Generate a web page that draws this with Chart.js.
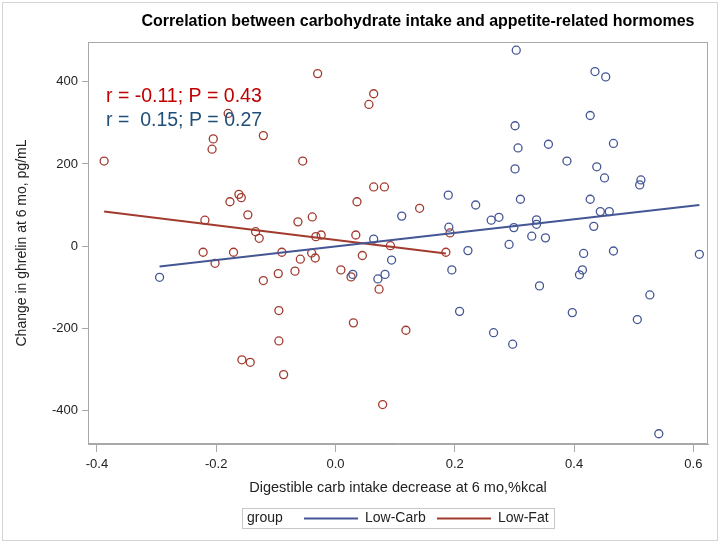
<!DOCTYPE html>
<html>
<head>
<meta charset="utf-8">
<title>Carbohydrate intake and ghrelin</title>
<script src="https://cdn.jsdelivr.net/npm/chart.js@4/dist/chart.umd.min.js"></script>
<style>
    html, body { margin: 0; padding: 0; background: #fff; }
    #wrap { width: 724px; height: 544px; }
</style>
</head>
<body>
<div id="wrap"><canvas id="chart" width="724" height="544"></canvas></div>
<script>
// Low-Carb group (blue)
const lowCarbX = [-0.295, 0.189, 0.235, 0.111, 0.261, 0.274, 0.190, 0.064, 0.222, 0.029,
    0.071, 0.083, 0.094, 0.195, 0.208, 0.265, 0.303, 0.435, 0.453, 0.427,
    0.301, 0.306, 0.357, 0.466, 0.388, 0.301, 0.438, 0.451, 0.512, 0.510,
    0.310, 0.427, 0.444, 0.459, 0.337, 0.337, 0.299, 0.433, 0.329, 0.352,
    0.291, 0.416, 0.466, 0.610, 0.414, 0.409, 0.342, 0.527, 0.397, 0.506,
    0.297, 0.542];
const lowCarbY = [-76, 124, 100, 73, 63, 70, 46, 17, -11, -69,
    -80, -69, -34, -58, -159, -211, 477, 425, 412, 318,
    293, 239, 248, 250, 207, 188, 193, 166, 161, 149,
    114, 114, 84, 84, 64, 53, 45, 48, 24, 20,
    4, -18, -12, -20, -58, -70, -97, -119, -162, -179,
    -239, -457];

// Low-Fat group (red)
const lowFatX = [-0.388, -0.180, -0.121, -0.205, -0.207, -0.162, -0.158, -0.177, -0.147, -0.219,
    -0.063, -0.134, -0.128, -0.222, -0.171, -0.202, -0.090, -0.059, -0.121, -0.096,
    -0.068, -0.095, -0.095, -0.157, -0.143, -0.087, -0.030, 0.064, 0.056, -0.055,
    0.064, 0.082, 0.036, 0.141, -0.039, 0.192, -0.024, -0.033, 0.034, 0.092,
    0.185, -0.040, -0.034, 0.045, 0.009, 0.026, 0.073, 0.030, 0.118, 0.079];
const lowFatY = [207, 323, 269, 261, 236, 126, 118, 108, 76, 63,
    59, 35, 19, -15, -15, -42, -15, -32, -84, -67,
    -61, -157, -231, -277, -283, -313, 420, 371, 345, 207,
    144, 144, 108, 92, 71, 32, 27, 23, 27, 1,
    -15, -17, -29, -23, -58, -75, -105, -187, -205, -386];

// fitted lines, end points
const lowCarbFitX = [-0.295, 0.610];
const lowCarbFitY = [-50, 100];
const lowFatFitX = [-0.388, 0.185];
const lowFatFitY = [84, -18];

const xTicks = [-0.4, -0.2, 0.0, 0.2, 0.4, 0.6];
const yTicks = [-400, -200, 0, 200, 400];

const blue = '#445694';
const red = '#A23A2E';
const frameColor = '#a8a8a8';
const fontFamily = '"Liberation Sans", Arial, sans-serif';

function toPoints(xs, ys) {
    return xs.map((x, i) => ({ x: x, y: ys[i] }));
}

// draws the frame, titles, the r/P notes and the legend box
const decorations = {
    id: 'decorations',
    beforeDraw(chart) {
        const ctx = chart.ctx;
        ctx.save();
        ctx.fillStyle = '#fff';
        ctx.fillRect(0, 0, chart.width, chart.height);
        ctx.strokeStyle = '#d4d4d4';
        ctx.lineWidth = 1;
        ctx.strokeRect(2.5, 2.5, 715, 538);
        ctx.restore();
    },
    afterDraw(chart) {
        const ctx = chart.ctx;
        const a = chart.chartArea;
        ctx.save();

        // plot frame
        ctx.strokeStyle = frameColor;
        ctx.lineWidth = 1;
        ctx.strokeRect(Math.round(a.left) + 0.5, Math.round(a.top) + 0.5,
            Math.round(a.right - a.left) - 1, Math.round(a.bottom - a.top) - 1);

        // title
        ctx.fillStyle = '#000';
        ctx.font = 'bold 16px ' + fontFamily;
        ctx.textAlign = 'center';
        ctx.textBaseline = 'middle';
        ctx.fillText('Correlation between carbohydrate intake and appetite-related hormomes', 418, 22);

        // axis titles
        ctx.fillStyle = '#222';
        ctx.font = '14.5px ' + fontFamily;
        ctx.fillText('Digestible carb intake decrease at 6 mo,%kcal', (a.left + a.right) / 2, 488);
        ctx.font = '14px ' + fontFamily;
        ctx.save();
        ctx.translate(22, (a.top + a.bottom) / 2);
        ctx.rotate(-Math.PI / 2);
        ctx.fillText('Change in ghrelin at 6 mo, pg/mL', 0, 0);
        ctx.restore();

        // correlation notes
        ctx.textAlign = 'left';
        ctx.font = '19.5px ' + fontFamily;
        ctx.fillStyle = '#C00000';
        ctx.fillText('r = -0.11; P = 0.43', 106, 97);
        ctx.fillStyle = '#1F4E79';
        ctx.fillText('r =  0.15; P = 0.27', 106, 121);

        // legend
        ctx.lineWidth = 1;
        ctx.strokeStyle = '#c8c8c8';
        ctx.strokeRect(242.5, 508.5, 312, 20);
        ctx.font = '14px ' + fontFamily;
        ctx.fillStyle = '#222';
        ctx.fillText('group', 247, 518.5);
        ctx.lineWidth = 2;
        ctx.strokeStyle = blue;
        ctx.beginPath(); ctx.moveTo(304, 518.5); ctx.lineTo(358, 518.5); ctx.stroke();
        ctx.fillText('Low-Carb', 365, 518.5);
        ctx.strokeStyle = red;
        ctx.beginPath(); ctx.moveTo(437, 518.5); ctx.lineTo(491, 518.5); ctx.stroke();
        ctx.fillText('Low-Fat', 498, 518.5);

        ctx.restore();
    }
};

const ctx = document.getElementById('chart').getContext('2d');
new Chart(ctx, {
    type: 'scatter',
    data: {
        datasets: [
            {
                label: 'Low-Carb fit',
                type: 'line',
                data: toPoints(lowCarbFitX, lowCarbFitY),
                borderColor: blue,
                borderWidth: 2,
                pointRadius: 0,
                fill: false,
                order: 0
            },
            {
                label: 'Low-Fat fit',
                type: 'line',
                data: toPoints(lowFatFitX, lowFatFitY),
                borderColor: red,
                borderWidth: 2,
                pointRadius: 0,
                fill: false,
                order: 1
            },
            {
                label: 'Low-Carb',
                data: toPoints(lowCarbX, lowCarbY),
                borderColor: blue,
                backgroundColor: 'rgba(0,0,0,0)',
                pointRadius: 4,
                borderWidth: 1.3,
                order: 2
            },
            {
                label: 'Low-Fat',
                data: toPoints(lowFatX, lowFatY),
                borderColor: red,
                backgroundColor: 'rgba(0,0,0,0)',
                pointRadius: 4,
                borderWidth: 1.3,
                order: 3
            }
        ]
    },
    options: {
        responsive: false,
        animation: false,
        layout: {
            padding: { left: 0, top: 42, right: 16, bottom: 0 }
        },
        plugins: {
            legend: { display: false },
            title: { display: false },
            tooltip: { enabled: false }
        },
        scales: {
            x: {
                type: 'linear',
                min: -0.415,
                max: 0.6245,
                afterFit(scale) { scale.height = 100; },
                afterBuildTicks(scale) { scale.ticks = xTicks.map(v => ({ value: v })); },
                grid: {
                    drawOnChartArea: false,
                    drawTicks: true,
                    tickLength: 8,
                    color: frameColor
                },
                border: { display: true, color: frameColor },
                ticks: {
                    padding: 5,
                    color: '#222',
                    font: { family: fontFamily, size: 13 },
                    callback: v => (Math.abs(v) < 1e-9 ? 0 : v).toFixed(1)
                }
            },
            y: {
                type: 'linear',
                min: -482,
                max: 497,
                afterFit(scale) { scale.width = 88; },
                afterBuildTicks(scale) { scale.ticks = yTicks.map(v => ({ value: v })); },
                grid: {
                    drawOnChartArea: false,
                    drawTicks: true,
                    tickLength: 6,
                    color: frameColor
                },
                border: { display: true, color: frameColor },
                ticks: {
                    padding: 4,
                    color: '#222',
                    font: { family: fontFamily, size: 13 }
                }
            }
        }
    },
    plugins: [decorations]
});
</script>
</body>
</html>
